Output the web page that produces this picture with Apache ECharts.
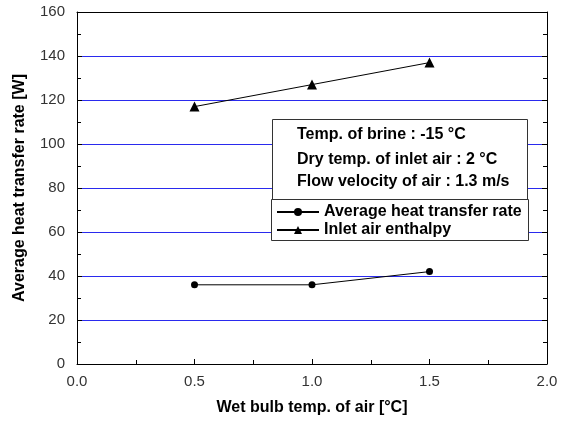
<!DOCTYPE html>
<html><head><meta charset="utf-8">
<script src="https://cdn.jsdelivr.net/npm/echarts@6/dist/echarts.min.js"></script>
<style>html,body{margin:0;padding:0;background:#fff}#c{width:567px;height:428px}</style>
</head><body><div id="c"></div>
<script>
var xValues = [0.5, 1.0, 1.5];
var heatRate = [36, 36, 42];
var enthalpy = [117, 127, 137];
var seriesNames = ['Average heat transfer rate', 'Inlet air enthalpy'];
var noteLines = ['Temp. of brine : -15 \u00B0C', 'Dry temp. of inlet air : 2 \u00B0C', 'Flow velocity of air : 1.3 m/s'];
var xTitle = 'Wet bulb temp. of air [\u00B0C]';
var yTitle = 'Average heat transfer rate [W]';

var font = 'Liberation Sans, Arial, sans-serif';
var chart = echarts.init(document.getElementById('c'), null, {renderer: 'canvas'});
function pairs(xs, ys){ return xs.map(function(x,i){return [x, ys[i]];}); }
function ticks(){ return {show:true, inside:true, length:5, lineStyle:{color:'#000', width:1}}; }
function minor(){ return {show:true, splitNumber:2, length:4, lineStyle:{color:'#000', width:1}}; }
chart.setOption({
  animation: false,
  backgroundColor: '#fff',
  grid: {left:77, right:20, top:12, bottom:64, containLabel:false},
  xAxis: [{
    type:'value', min:0, max:2, interval:0.5, position:'bottom',
    name: xTitle, nameLocation:'middle', nameGap:36,
    nameTextStyle:{fontFamily:font, fontSize:16, fontWeight:'bold', color:'#000'},
    axisLine:{show:true, onZero:false, lineStyle:{color:'#000', width:1}},
    axisTick: ticks(), minorTick: minor(),
    axisLabel:{fontFamily:font, fontSize:15, color:'#333', margin:10, formatter:function(v){return v.toFixed(1);}},
    splitLine:{show:false}
  },{
    type:'value', min:0, max:2, interval:0.5, position:'top',
    axisLine:{show:true, onZero:false, lineStyle:{color:'#000', width:1}},
    axisTick:{show:false}, minorTick:{show:false}, axisLabel:{show:false}, splitLine:{show:false}
  }],
  yAxis: [{
    type:'value', min:0, max:160, interval:20, position:'left',
    name: yTitle, nameLocation:'middle', nameGap:49, nameRotate:90,
    nameTextStyle:{fontFamily:font, fontSize:16, fontWeight:'bold', color:'#000'},
    axisLine:{show:true, onZero:false, lineStyle:{color:'#000', width:1}},
    axisTick: ticks(), minorTick: minor(),
    axisLabel:{fontFamily:font, fontSize:15, color:'#333', margin:12},
    splitLine:{show:true, showMinLine:false, showMaxLine:false, lineStyle:{color:'#2a2aee', width:1, opacity:1}}
  },{
    type:'value', min:0, max:160, interval:20, position:'right',
    axisLine:{show:true, onZero:false, lineStyle:{color:'#000', width:1}},
    axisTick: ticks(), minorTick: minor(), axisLabel:{show:false}, splitLine:{show:false}
  }],
  legend: {
    left: 276, top: 204, orient:'vertical', itemWidth:42, itemHeight:10, itemGap:2, padding:0,
    textStyle:{fontFamily:font, fontSize:16, fontWeight:'bold', color:'#000'},
    data: seriesNames
  },
  graphic: [
    {type:'rect', shape:{x:272.5, y:119.5, width:255, height:80}, style:{fill:'#fff', stroke:'#333', lineWidth:1}, z:1},
    {type:'rect', shape:{x:271.5, y:199.5, width:257, height:41}, style:{fill:'#fff', stroke:'#333', lineWidth:1}, z:1},
    {type:'text', left:297, top:127, style:{text:noteLines[0], fontFamily:font, fontSize:16, fontWeight:'bold', fill:'#000'}, z:2},
    {type:'text', left:297, top:152, style:{text:noteLines[1], fontFamily:font, fontSize:16, fontWeight:'bold', fill:'#000'}, z:2},
    {type:'text', left:297, top:174, style:{text:noteLines[2], fontFamily:font, fontSize:16, fontWeight:'bold', fill:'#000'}, z:2}
  ],
  series: [
    {name:seriesNames[0], type:'line', data:pairs(xValues, heatRate), symbol:'circle', symbolSize:7,
     lineStyle:{color:'#000', width:1}, itemStyle:{color:'#000'}, z:3},
    {name:seriesNames[1], type:'line', data:pairs(xValues, enthalpy), symbol:'triangle', symbolSize:10,
     lineStyle:{color:'#000', width:1}, itemStyle:{color:'#000'}, z:3}
  ]
});
</script></body></html>
